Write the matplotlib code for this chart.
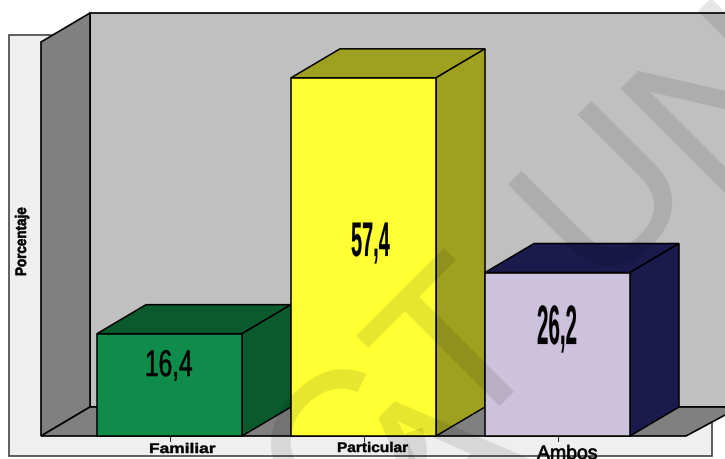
import matplotlib
matplotlib.use('Agg')
import matplotlib.pyplot as plt
import matplotlib.patheffects as pe
from matplotlib.patches import Polygon, Rectangle
from matplotlib.transforms import Affine2D

categorias = ['Familiar', 'Particular', 'Ambos']
valores = [16.4, 57.4, 26.2]
etiquetas = ['16,4', '57,4', '26,2']
color_frente = ['#0f8c49', '#ffff33', '#ccc2dc']
color_lado = ['#0b5a2e', '#a0a020', '#1a1a4d']

# escala: px por unidad
esc_x = 194.0
esc_y = 6.24
ancho = 145 / esc_x
prof_x = 49 / esc_x
prof_y = 29 / esc_y


# el original tiene los textos estirados a lo ancho o a lo alto
class Estirar(pe.AbstractPathEffect):
    def __init__(self, sx, grueso=0.0):
        super().__init__()
        self.sx = sx
        self.grueso = grueso

    def draw_path(self, renderer, gc, tpath, affine, rgbFace=None):
        gc0 = renderer.new_gc()
        gc0.copy_properties(gc)
        gc0.set_foreground('black')
        gc0.set_linewidth(self.grueso)
        renderer.draw_path(gc0, tpath, Affine2D().scale(self.sx, 1) + affine, rgbFace)
        gc0.restore()


fig = plt.figure(figsize=(7.25, 4.6), dpi=100)
ax = fig.add_axes([0, 0, 1, 1])
ax.set_xlim(-169.5 / esc_x, (725 - 169.5) / esc_x)
ax.set_ylim(-23 / esc_y, 437 / esc_y)
ax.axis('off')

# coordenadas en pixeles de la imagen (y hacia abajo)
pix = Affine2D().scale(1, -1).translate(0, 459)

ax.add_patch(Rectangle((9, 35), 703, 421, transform=pix, fc='#efefef', ec='#444444', lw=1.2, zorder=1))
ax.add_patch(Polygon([(90, 13), (740, 13), (740, 407), (90, 407)], transform=pix, fc='#c0c0c0', ec='black', lw=1.2, zorder=2))
ax.add_patch(Polygon([(41, 42), (90, 13), (90, 407), (41, 436)], transform=pix, fc='#808080', ec='black', lw=1.2, zorder=3))
ax.add_patch(Polygon([(41, 436), (90, 407), (740, 407), (686, 436)], transform=pix, fc='#808080', ec='black', lw=1.2, zorder=3))

for i, v in enumerate(valores):
    z = 4 + i
    izq = i - ancho / 2
    der = i + ancho / 2
    ax.bar(i, v, width=ancho, color=color_frente[i], edgecolor='black', linewidth=1.1, zorder=z + 0.2)
    ax.add_patch(Polygon([(izq, v), (der, v), (der + prof_x, v + prof_y), (izq + prof_x, v + prof_y)],
                         fc=color_lado[i], ec='black', lw=1.1, zorder=z))
    ax.add_patch(Polygon([(der, 0), (der + prof_x, prof_y), (der + prof_x, v + prof_y), (der, v)],
                         fc=color_lado[i], ec='black', lw=1.1, zorder=z))
    ax.plot([i, i], [0, -5 / esc_y], color='#333333', lw=0.8, zorder=z)

# x izquierda, linea base, tamano, estiramiento, peso, grueso
pos_val = [(145, 376, 26.7, 0.66, 'normal', 0.4), (351, 256, 35, 0.41, 'bold', 0.1), (537, 344, 40, 0.37, 'bold', 0.1)]
for e, (x, y, tam, sx, peso, gr) in zip(etiquetas, pos_val):
    ax.text(x, y, e, transform=pix, ha='left', va='baseline', fontsize=tam, fontweight=peso,
            family='Liberation Sans', zorder=10, path_effects=[Estirar(sx, gr)])

pos_cat = [(149, 453, 10, 1.25, 'bold', 0.3), (337, 452, 10, 1.11, 'bold', 0.3), (537, 459, 14, 1.0, 'normal', 0.5)]
for c, (x, y, tam, sx, peso, gr) in zip(categorias, pos_cat):
    ax.text(x, y, c, transform=pix, ha='left', va='baseline', fontsize=tam, fontweight=peso,
            family='Liberation Sans', zorder=10, path_effects=[Estirar(sx, gr)])

ax.text(26, 276, 'Porcentaje', transform=pix, rotation=90, rotation_mode='anchor', ha='left', va='baseline',
        fontsize=11, fontweight='bold', family='Liberation Sans', zorder=10, path_effects=[Estirar(0.88, 0.4)])

# marca de agua
for letra, x, y, tam in [('C', 356, 455, 158), ('A', 453, 475, 158), ('T', 465, 354, 158), ('U', 609, 193, 150), ('N', 730, 98, 165)]:
    ax.text(x, y, letra, transform=pix, rotation=45, rotation_mode='anchor', ha='center', va='center',
            fontsize=tam, family='Liberation Sans', color='black', alpha=0.1, zorder=11, clip_on=True)

fig.savefig('out.png', dpi=100)
